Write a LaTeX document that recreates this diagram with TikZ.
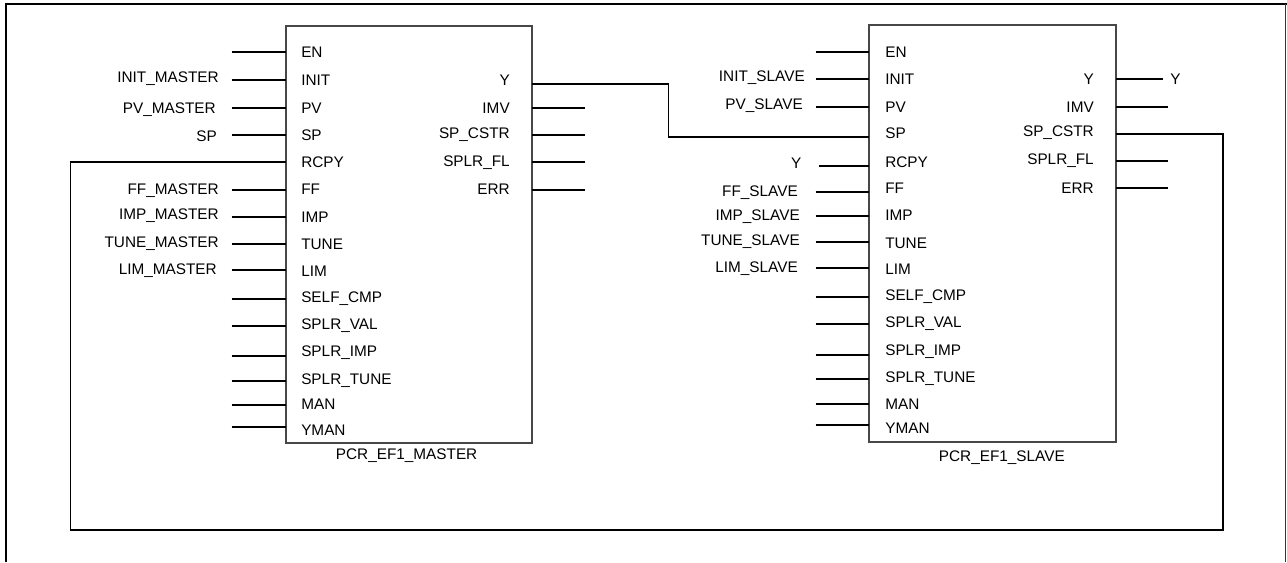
\documentclass[tikz,border=0pt]{standalone}
\usepackage{fontspec}
\setmainfont{Liberation Sans}
\begin{document}
\begin{tikzpicture}[x=0.75pt,y=-0.75pt,
  wire/.style={draw=black, line width=0.8pt},
  blockbox/.style={draw=black!72, line width=1.1pt, rectangle, inner sep=0pt, fill=none},
  lbl/.style={font=\fontsize{11.5}{13}\selectfont, inner sep=0pt, text=black},
  framethick/.style={line width=1.6pt, draw=black},
  framethin/.style={line width=0.9pt, draw=black!80}]
\useasboundingbox (0,0) rectangle (1287,562);

% outer frame
\coordinate (ftl) at (6,4);
\coordinate (ftr) at (1287,4);
\coordinate (fbl) at (6,562);
\coordinate (frt) at (1285.5,4);
\coordinate (frb) at (1285.5,562);
\draw[framethick] (fbl) -- (ftl) -- (ftr);
\draw[framethin] (frt) -- (frb);

% blocks
\node[blockbox, minimum width=184.5pt, minimum height=312.75pt] (M) at (409,234.5) {};
\node[blockbox, minimum width=185.25pt, minimum height=312.75pt] (S) at (992.5,233.5) {};
\node[lbl] (Mtitle) at (406.6,456) {PCR\_EF1\_MASTER};
\node[lbl] (Stitle) at (1001.8,457.5) {PCR\_EF1\_SLAVE};

% master inputs
\foreach \ly/\ty/\txt [count=\i] in {52/52/EN, 80/80/INIT, 108/108/PV, 135/135/SP, 162/162/RCPY, 190/189/FF, 217/217/IMP, 244/244/TUNE, 270/271/LIM, 299/299/SELF\_CMP, 326/326/SPLR\_VAL, 356/353/SPLR\_IMP, 381/381/SPLR\_TUNE, 405/404/MAN, 427/430/YMAN}{
  \coordinate (Min\i) at (286,\ly);
  \coordinate (Mfree\i) at (231.5,\ly);
  \node[lbl,anchor=west] (Mlab\i) at (301,\ty) {\txt};
}
\foreach \i in {1,2,3,4,6,7,8,9,10,11,12,13,14,15}{
  \draw[wire] (Mfree\i) -- (Min\i);
}
% master outputs
\foreach \ly/\ty/\txt [count=\i] in {84/80/Y, 108/108/IMV, 135/135/SP\_CSTR, 162/163/SPLR\_FL, 190/189/ERR}{
  \coordinate (Mout\i) at (532,\ly);
  \coordinate (Mofree\i) at (585,\ly);
  \node[lbl,anchor=east] (Molab\i) at (510,\ty) {\txt};
}
\foreach \i in {2,3,4,5}{
  \draw[wire] (Mout\i) -- (Mofree\i);
}
% master external labels
\node[lbl,anchor=east] (Mx2) at (219,79) {INIT\_MASTER};
\node[lbl,anchor=east] (Mx3) at (216,110) {PV\_MASTER};
\node[lbl,anchor=east] (Mx4) at (217,136) {SP};
\node[lbl,anchor=east] (Mx6) at (219,191) {FF\_MASTER};
\node[lbl,anchor=east] (Mx7) at (219,216) {IMP\_MASTER};
\node[lbl,anchor=east] (Mx8) at (219,244) {TUNE\_MASTER};
\node[lbl,anchor=east] (Mx9) at (217,271) {LIM\_MASTER};

% slave inputs
\foreach \ly/\ty/\txt/\fx [count=\i] in {52/52/EN/815.6, 79/79/INIT/815.6, 107/107/PV/815.6, 137/133/SP/815.6, 166/162/RCPY/819, 192/188/FF/815.6, 216/215/IMP/815.6, 242/243/TUNE/815.6, 268/269/LIM/815.6, 297/297/SELF\_CMP/815.6, 324/324/SPLR\_VAL/815.6, 355/352/SPLR\_IMP/815.6, 379/379/SPLR\_TUNE/815.6, 404/404/MAN/815.6, 425/428/YMAN/815.6}{
  \coordinate (Sin\i) at (869,\ly);
  \coordinate (Sfree\i) at (\fx,\ly);
  \node[lbl,anchor=west] (Slab\i) at (885,\ty) {\txt};
}
\foreach \i in {1,2,3,5,6,7,8,9,10,11,12,13,14,15}{
  \draw[wire] (Sfree\i) -- (Sin\i);
}
% slave outputs
\foreach \ly/\ty/\txt/\fx [count=\i] in {79/79/Y/1163, 107/107/IMV/1168, 134/133/SP\_CSTR/1168, 161/161/SPLR\_FL/1168, 188/188/ERR/1168}{
  \coordinate (Sout\i) at (1116,\ly);
  \coordinate (Sofree\i) at (\fx,\ly);
  \node[lbl,anchor=east] (Solab\i) at (1094,\ty) {\txt};
}
\foreach \i in {1,2,4,5}{
  \draw[wire] (Sout\i) -- (Sofree\i);
}
\node[lbl,anchor=west] (SoY) at (1170,79) {Y};
% slave external labels
\node[lbl,anchor=east] (Sx2) at (805,78) {INIT\_SLAVE};
\node[lbl,anchor=east] (Sx3) at (803,106) {PV\_SLAVE};
\node[lbl,anchor=east] (Sx5) at (801.5,163) {Y};
\node[lbl,anchor=east] (Sx6) at (798,193) {FF\_SLAVE};
\node[lbl,anchor=east] (Sx7) at (800,217) {IMP\_SLAVE};
\node[lbl,anchor=east] (Sx8) at (800,242) {TUNE\_SLAVE};
\node[lbl,anchor=east] (Sx9) at (798,269) {LIM\_SLAVE};

% connections
\coordinate (yjog) at (668.7,84);
\draw[wire] (Mout1) -- (yjog) |- (Sin4);
\coordinate (loopR) at (1223,134);
\coordinate (loopL) at (70.7,530);
\draw[wire] (Sout3) -- (loopR) |- (loopL) |- (Min5);
\end{tikzpicture}
\end{document}
